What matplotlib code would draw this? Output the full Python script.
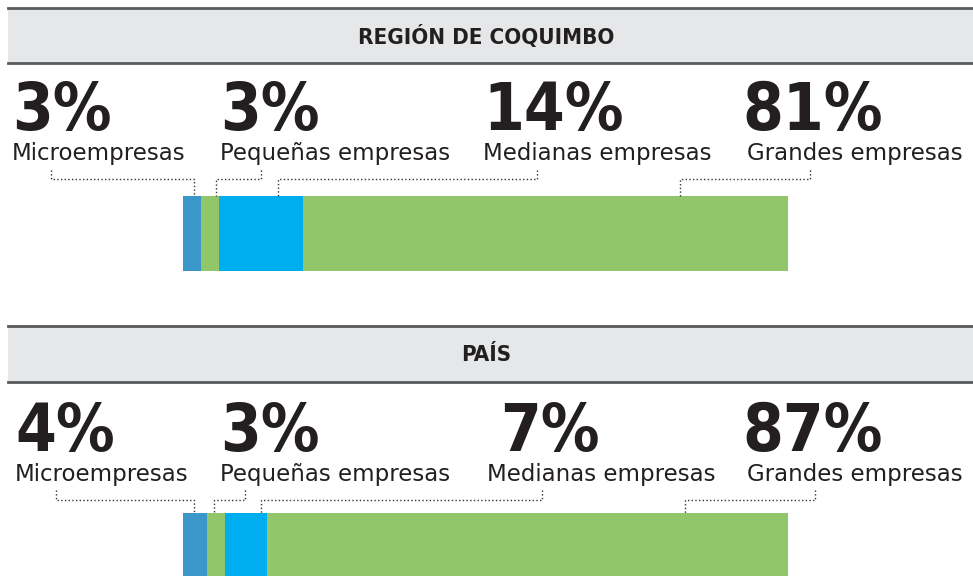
import numpy as np
import matplotlib.pyplot as plt
from matplotlib.patches import Rectangle

# data
categorias = ["Microempresas", "Pequeñas empresas", "Medianas empresas", "Grandes empresas"]
coquimbo = [3, 3, 14, 81]
pais = [4, 3, 7, 87]
titulos = ["REGIÓN DE COQUIMBO", "PAÍS"]
colores = ["#3b97c9", "#92c66a", "#00aeef", "#92c66a"]

W, H = 973, 576
fig = plt.figure(figsize=(W / 100, H / 100), dpi=100)
ax = fig.add_axes([0, 0, 1, 1])
ax.set_xlim(0, W)
ax.set_ylim(H, 0)
ax.axis('off')

bold_font = dict(family=['DejaVu Sans'], weight='bold', stretch='condensed')
label_font = dict(family=['DejaVu Sans'])

# layout for each panel (pixel coords)
paneles = [
    dict(vals=coquimbo, titulo=titulos[0], band=(8, 63), bar=(196, 75),
         num_x=[12, 220, 483, 742], num_y=130,
         lab_x=[12, 220, 483, 747], lab_y=160,
         tick_x=[51, 261, 537, 810], tick_y=(170, 179),
         drop_x=[194, 216, 278, 680]),
    dict(vals=pais, titulo=titulos[1], band=(326, 382), bar=(513, 75),
         num_x=[15, 220, 500, 742], num_y=451,
         lab_x=[15, 220, 487, 747], lab_y=481,
         tick_x=[56, 245, 542, 815], tick_y=(490, 500),
         drop_x=[194, 214, 261, 685]),
]

bar_x0, bar_w = 183, 605

for p in paneles:
    y0, y1 = p['band']
    ax.add_patch(Rectangle((8, y0), W - 8, y1 - y0, facecolor='#e6e7e8', edgecolor='none'))
    ax.plot([8, W], [y0, y0], color='#58595b', lw=2)
    ax.plot([8, W], [y1, y1], color='#58595b', lw=2)
    ax.text(W / 2, (y0 + y1) / 2 + 1, p['titulo'], ha='center', va='center',
            fontsize=16, color='#231f20', **bold_font)

    vals = np.array(p['vals'], dtype=float)
    escala = bar_w / vals.sum()
    lefts = bar_x0 + np.concatenate([[0], np.cumsum(vals)[:-1]]) * escala
    ax.barh(p['bar'][0] + p['bar'][1] / 2, vals * escala, left=lefts,
            height=p['bar'][1], color=colores, edgecolor='none')

    for i, cat in enumerate(categorias):
        ax.text(p['num_x'][i], p['num_y'], f"{p['vals'][i]}%", ha='left', va='baseline',
                fontsize=47, color='#231f20', **bold_font)
        ax.text(p['lab_x'][i], p['lab_y'], cat, ha='left', va='baseline',
                fontsize=16.5, color='#231f20', **label_font)
        tx = p['tick_x'][i]
        ty0, ty1 = p['tick_y']
        dx = p['drop_x'][i]
        ax.plot([tx, tx, dx, dx], [ty0, ty1, ty1, p['bar'][0]], ls=':',
                color='#333333', lw=1)

fig.savefig('out.png', dpi=100)
